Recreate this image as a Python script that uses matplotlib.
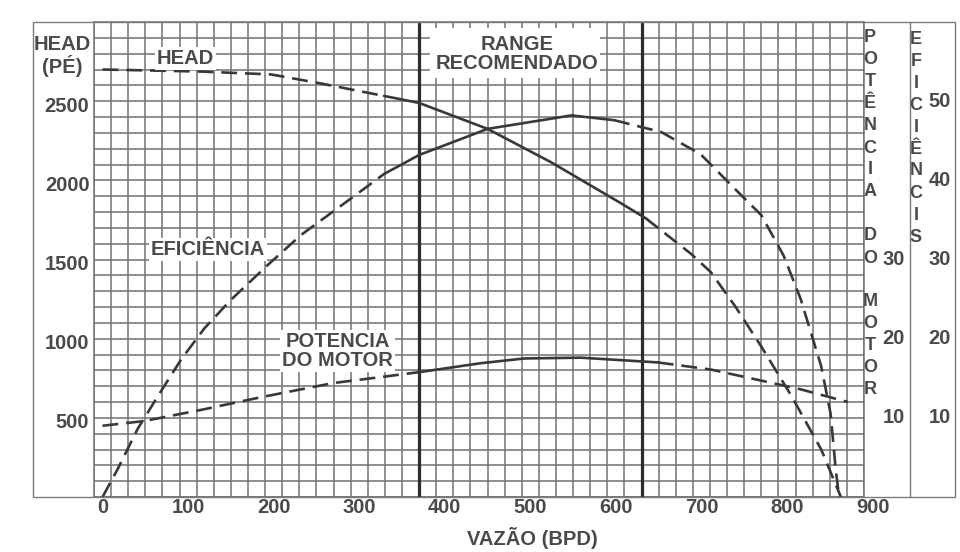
import matplotlib
matplotlib.use("Agg")
import matplotlib.pyplot as plt
import matplotlib.transforms as mtransforms
from matplotlib.patches import Rectangle
from matplotlib.lines import Line2D
import numpy as np

plt.rcParams["font.family"] = ["Liberation Sans", "DejaVu Sans"]

# ---------------------------------------------------------------------------
# Pump curves: flow (BPD) vs head (ft), efficiency (%) and motor power (HP)
# ---------------------------------------------------------------------------

head_q = [0, 115, 197, 255, 329, 370, 450, 524, 606, 635, 688, 711, 740, 770, 805,
          840, 863]
head_ft = [2700, 2687, 2669, 2612, 2533, 2489, 2325, 2115, 1855, 1760, 1535, 1420,
           1200, 950, 640, 300, 0]
head_solid = (329, 635)

eff_q = [0, 18, 41, 65, 92, 119, 150, 193, 232, 294, 329, 370, 450, 548, 598, 653,
         699, 743, 770, 796, 816, 840, 851, 857, 861]
eff_pct = [0, 3.6, 8.6, 12.8, 17.4, 21.3, 24.9, 29.3, 33.1, 38.0, 40.8, 43.2, 46.5,
           48.2, 47.6, 46.1, 43.3, 38.5, 35.6, 30.5, 25.0, 16.5, 10.5, 3.4, 0]
eff_solid = (329, 598)

pot_q = [0, 49, 115, 185, 232, 270, 329, 372, 442, 493, 559, 649, 711, 770, 816, 871]
pot_hp = [9.0, 9.6, 11.0, 12.6, 13.6, 14.4, 15.2, 15.8, 16.9, 17.5, 17.6, 17.0,
          16.1, 14.7, 13.6, 12.0]
pot_solid = (372, 649)

range_q = [370, 630]

x_ticks = [0, 100, 200, 300, 400, 500, 600, 700, 800, 900]
head_ticks = [500, 1000, 1500, 2000, 2500]
pot_ticks = [10, 20, 30]
eff_ticks = [10, 20, 30, 40, 50]

INK = "#383838"
TXT = "#4a4a4a"
GRID = "#727272"
FRAME = "#7a7a7a"

W, H = 960, 552


def fx(px):
    return px / W


def fy(py):
    return 1 - py / H


fig = plt.figure(figsize=(9.6, 5.52), dpi=100)
fig.patch.set_facecolor("white")

# grid area
gl, gr, gt, gb = 94, 864, 22, 497
ax = fig.add_axes([fx(gl), fy(gb), (gr - gl) / W, (gb - gt) / H])
ax.set_xlim(-10, 890)
ax.set_ylim(0, 3000)
ax.set_xticks(np.arange(-10, 891, 20))
ax.set_yticks(np.arange(0, 3001, 100))
ax.set_xticklabels([])
ax.set_yticklabels([])
ax.tick_params(length=0)
ax.grid(True, color=GRID, lw=1.1)
for s in ax.spines.values():
    s.set_color(GRID)
    s.set_linewidth(1.1)

ax2 = ax.twinx()
ax2.set_ylim(0, 60)
ax2.set_yticks([])
for s in ax2.spines.values():
    s.set_visible(False)

# recommended operating range
for q in range_q:
    ax.axvline(q, color="#2c2c2c", lw=2.3, zorder=3)


def draw_curve(axis, q, v, solid):
    q = np.asarray(q)
    v = np.asarray(v)
    i0 = int(np.searchsorted(q, solid[0]))
    i1 = int(np.searchsorted(q, solid[1]))
    style = dict(color=INK, lw=1.9, zorder=4)
    axis.plot(q[:i0 + 1], v[:i0 + 1], dashes=(6, 3), **style)
    axis.plot(q[i0:i1 + 1], v[i0:i1 + 1], solid_capstyle="round", **style)
    axis.plot(q[i1:], v[i1:], dashes=(6, 3), **style)


draw_curve(ax, head_q, head_ft, head_solid)
draw_curve(ax2, eff_q, eff_pct, eff_solid)
draw_curve(ax2, pot_q, pot_hp, pot_solid)

font = dict(color=TXT, fontsize=14.5, fontweight="bold")
box = dict(fc="white", ec="none", pad=1.5)

# labels inside the grid
ax.text(97, 2771, "HEAD", ha="center", va="center", bbox=box, zorder=6, **font)
ax.add_patch(Rectangle((383, 2644), 199, 320, fc="white", ec="none", zorder=5))
ax.text(484, 2798, "RANGE\nRECOMENDADO", ha="center", va="center",
        linespacing=1.0, zorder=6, **font)
ax.text(123, 1562, "EFICIÊNCIA", ha="center", va="center", bbox=box, zorder=6, **font)
ax.text(275, 924, "POTENCIA\nDO MOTOR", ha="center", va="center",
        linespacing=1.0, bbox=box, zorder=6, **font)

# flow tick labels
xt = mtransforms.offset_copy(ax.get_xaxis_transform(), fig=fig, y=-1, units="dots")
for v in x_ticks:
    ax.text(v, 0, str(v), transform=xt, ha="center", va="top", clip_on=False, **font)

# head tick labels
yt = mtransforms.offset_copy(ax.get_yaxis_transform(), fig=fig, y=-5, units="dots")
for v in head_ticks:
    ax.text(-0.006, v, str(v), transform=yt, ha="right", va="center", clip_on=False, **font)

# power and efficiency tick labels in the right-hand columns
rt = ax2.get_yaxis_transform()
for v in pot_ticks:
    ax2.text((905 - gl) / (gr - gl), v, str(v), transform=rt, ha="right", va="center",
             clip_on=False, **font)
for v in eff_ticks:
    ax2.text((951 - gl) / (gr - gl), v, str(v), transform=rt, ha="right", va="center",
             clip_on=False, **font)

# outer frame and column divider
fig.add_artist(Rectangle((fx(33), fy(gb)), (955 - 33) / W, (gb - gt) / H,
                         transform=fig.transFigure, fill=False, ec=FRAME, lw=1.0))
fig.add_artist(Line2D([fx(909.5)] * 2, [fy(gb), fy(gt)], transform=fig.transFigure,
                      color=FRAME, lw=1.0))

# axis titles
fig.text(fx(62), fy(44), "HEAD", ha="center", va="center", **font)
fig.text(fx(62), fy(66), "(PÉ)", ha="center", va="center", **font)
fig.text(fx(532), fy(538), "VAZÃO (BPD)", ha="center", va="center", **font)

letter = dict(color=TXT, fontsize=13, fontweight="bold", ha="center", va="center")
for i, ch in enumerate("POTÊNCIA DO MOTOR"):
    if ch != " ":
        fig.text(fx(870), fy(38 + 22 * i), ch, **letter)
for i, ch in enumerate("EFICIÊNCIS"):
    if ch != " ":
        fig.text(fx(916), fy(39 + 22 * i), ch, **letter)

fig.savefig("out.png", dpi=100)
